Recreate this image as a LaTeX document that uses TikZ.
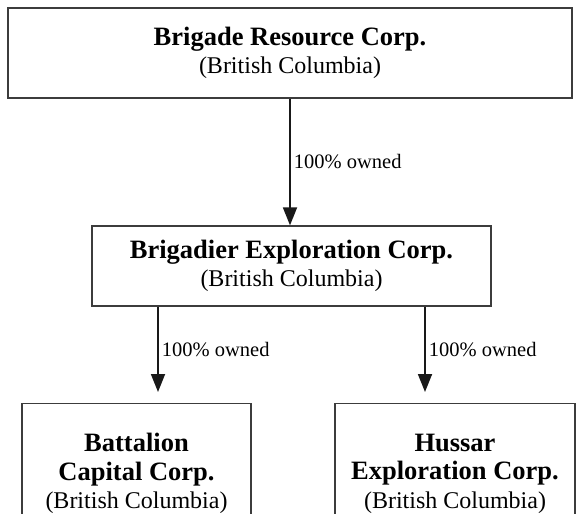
\documentclass[tikz,border=0pt]{standalone}
\usepackage{fontspec}
\setmainfont{Liberation Serif}
\usetikzlibrary{calc}
\usetikzlibrary{positioning}
\usetikzlibrary{arrows.meta}
\definecolor{frame1}	{RGB}{60,60,60}
\definecolor{line1}	{RGB}{25,25,25}
\tikzstyle{corp}=	[draw=frame1, line width=1.3pt, align=center, inner sep=0pt, font=\fontsize{24}{28.5}\selectfont]
\tikzstyle{subcorp}=	[corp, anchor=north, inner ysep=21pt, align=center, font=\fontsize{24}{28.5}\selectfont]
\tikzstyle{own}=	[draw=line1, line width=1.8pt, -{Triangle[width=14pt,length=18pt]}]
\tikzstyle{pct}=	[font=\fontsize{20.5}{24}\selectfont, right, midway, inner sep=3pt]
\newcommand{\cname}[1]{{\fontsize{26.5}{28.5}\selectfont\bfseries #1}}

\begin{document}
\begin{tikzpicture}[x=1pt, y=1pt]
	\useasboundingbox (0,0) rectangle (585,-513);

	%%% parent
	\node[corp, minimum width=564pt, minimum height=90pt] (brigade) at (290,-53)
		{\cname{Brigade Resource Corp.}\\(British Columbia)};

	%%% subsidiary
	\node[corp, minimum width=399pt, minimum height=80pt] (brigadier) at (291.5,-266)
		{\cname{Brigadier Exploration Corp.}\\(British Columbia)};

	\draw[own] (brigade.south) -- (brigade.south |- brigadier.north)
		node[pct] {100\% owned};

	%%% second level
	\node[subcorp, minimum width=229pt, minimum height=140pt] (battalion) at (136.5,-403)
		{\cname{Battalion}\\\cname{Capital Corp.}\\(British Columbia)};
	\node[subcorp, minimum width=240pt, minimum height=140pt] (hussar) at (455,-403)
		{\cname{Hussar}\\\cname{Exploration Corp.}\\(British Columbia)};

	% arrow ends
	\coordinate (battalion in) at ([xshift=21.5pt, yshift=11pt]battalion.north);
	\coordinate (hussar in) at ([xshift=-30pt, yshift=11pt]hussar.north);

	\draw[own] (brigadier.south -| battalion in) -- (battalion in)
		node[pct] {100\% owned};
	\draw[own] (brigadier.south -| hussar in) -- (hussar in)
		node[pct] {100\% owned};

\end{tikzpicture}
\end{document}
